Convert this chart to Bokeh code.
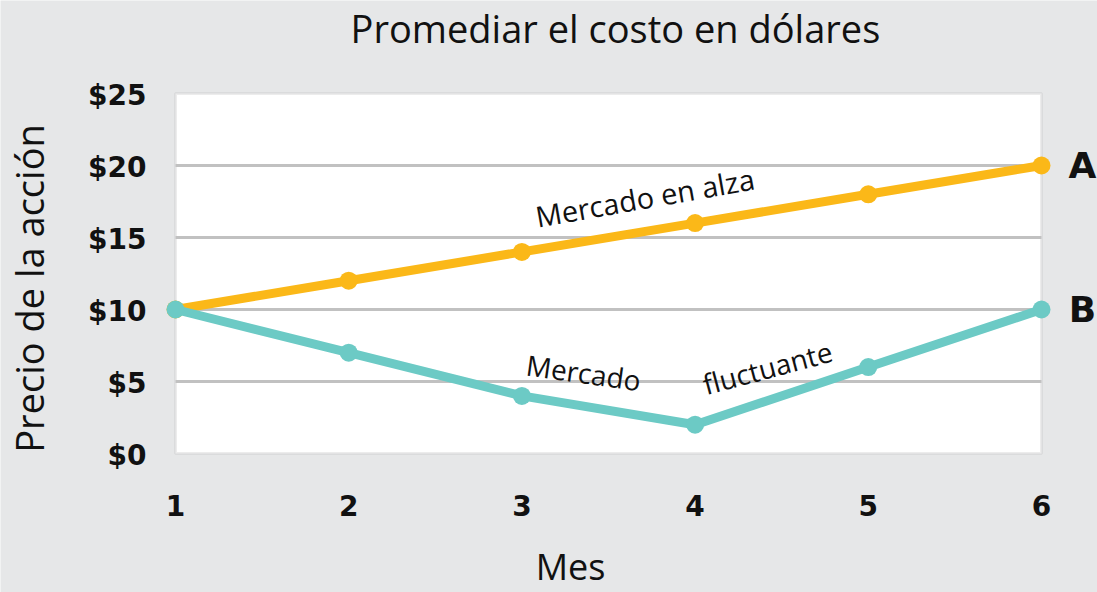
from bokeh.plotting import figure
from bokeh.models import Range1d, BoxAnnotation
from bokeh.core.properties import value
from bokeh.embed import file_html
from bokeh.resources import INLINE
import math

# ---- data ----
months = [1, 2, 3, 4, 5, 6]
rising = [10, 12, 14, 16, 18, 20]      # Mercado en alza (A)
fluct = [10, 7, 4, 2, 6, 10]           # Mercado fluctuante (B)
y_ticks = [0, 5, 10, 15, 20, 25]
y_tick_labels = ["$0", "$5", "$10", "$15", "$20", "$25"]
x_tick_labels = ["1", "2", "3", "4", "5", "6"]
grid_values = [5, 10, 15, 20]
series_names = ["A", "B"]
title_text = "Promediar el costo en dólares"
x_title = "Mes"
y_title = "Precio de la acción"

BG = "#e6e7e8"
GRID = "#c1c1c1"
ORANGE = "#fbb818"
TEAL = "#6ccac5"
INK = "#111111"

p = figure(width=1097, height=592, output_backend="svg", toolbar_location=None,
           x_range=Range1d(-0.0104, 6.3233), y_range=Range1d(-9.653, 31.458),
           x_axis_location=None, y_axis_location=None, min_border=0)
p.background_fill_color = BG
p.border_fill_color = BG
p.outline_line_color = None
p.grid.visible = False
p.title.visible = False

# plot box
box = BoxAnnotation(left=months[0], right=months[-1], bottom=y_ticks[0], top=y_ticks[-1],
                    fill_color="white", fill_alpha=1, line_color=GRID, line_width=3,
                    level="underlay")
p.add_layout(box)

# horizontal grid lines
p.segment(x0=[months[0]] * len(grid_values), x1=[months[-1]] * len(grid_values),
          y0=grid_values, y1=grid_values, line_color=GRID, line_width=3)

# series
p.line(months, rising, line_color=ORANGE, line_width=9)
p.scatter(months, rising, size=18, fill_color=ORANGE, line_color=None)
p.line(months, fluct, line_color=TEAL, line_width=9)
p.scatter(months, fluct, size=18, fill_color=TEAL, line_color=None)

# tick labels (y and x)
p.text(x=[months[0]] * len(y_ticks), y=y_ticks, text=y_tick_labels,
       x_offset=-29, y_offset=2, text_align="right", text_baseline="middle",
       text_font=value("DejaVu Sans"), text_font_style="bold", text_font_size="28px",
       text_color=INK)
p.text(x=months, y=[y_ticks[0]] * len(months), text=x_tick_labels,
       y_offset=52, text_align="center", text_baseline="middle",
       text_font=value("DejaVu Sans"), text_font_style="bold", text_font_size="28px",
       text_color=INK)

# series end labels
p.text(x=[months[-1], months[-1]], y=[rising[-1], fluct[-1]], text=series_names,
       x_offset=41, text_align="center", text_baseline="middle",
       text_font=value("DejaVu Sans"), text_font_style="bold", text_font_size="36px",
       text_color=INK)

# line annotations
ann_font = value("Open Sans")
p.text(x=[3.71], y=[17.8], text=["Mercado en alza"], angle=math.radians(10),
       text_align="center", text_baseline="middle", text_font=ann_font,
       text_font_size="29px", text_color=INK)
p.text(x=[3.356], y=[5.63], text=["Mercado"], angle=math.radians(-8),
       text_align="center", text_baseline="middle", text_font=ann_font,
       text_font_size="28px", text_color=INK)
p.text(x=[4.418], y=[5.97], text=["fluctuante"], angle=math.radians(15),
       text_align="center", text_baseline="middle", text_font=ann_font,
       text_font_size="28px", text_color=INK)

# chart title and axis titles
p.text(x=[3.540], y=[29.58], text=[title_text], text_align="center",
       text_baseline="middle", text_font=ann_font, text_font_size="38px",
       text_color=INK)
p.text(x=[3.281], y=[-7.85], text=[x_title], text_align="center",
       text_baseline="middle", text_font=ann_font, text_font_size="36px",
       text_color=INK)
p.text(x=[0.1513], y=[11.46], text=[y_title], angle=math.pi / 2, text_align="center",
       text_baseline="middle", text_font=ann_font, text_font_size="38px",
       text_color=INK)

html = file_html(p, INLINE)
html = html.replace("<body>", '<body style="background-color:%s;">' % BG, 1)
open("out.html", "w").write(html)
